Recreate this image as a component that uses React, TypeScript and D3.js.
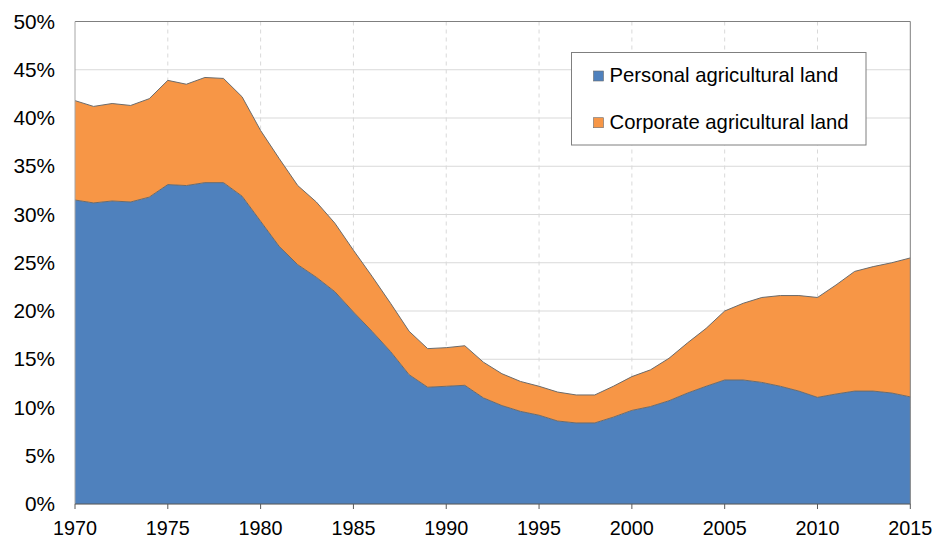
import React from "react";
import * as d3 from "d3";

const years = d3.range(1970, 2016);
const personal = [
  31.5, 31.2, 31.4, 31.3, 31.8, 33.1, 33.0, 33.3, 33.3, 31.9,
  29.3, 26.7, 24.8, 23.5, 22.0, 19.9, 17.9, 15.8, 13.4, 12.1,
  12.2, 12.3, 11.0, 10.2, 9.6, 9.2, 8.6, 8.4, 8.4, 9.0,
  9.7, 10.1, 10.7, 11.5, 12.2, 12.85, 12.85, 12.6, 12.2, 11.7,
  11.05, 11.4, 11.7, 11.7, 11.5, 11.1,
];
const corporate = [
  10.3, 10.0, 10.1, 10.0, 10.2, 10.8, 10.5, 10.9, 10.8, 10.3,
  9.4, 9.1, 8.2, 7.8, 7.1, 6.4, 5.7, 5.0, 4.5, 4.0,
  4.0, 4.1, 3.7, 3.3, 3.1, 3.0, 3.0, 2.9, 2.9, 3.2,
  3.5, 3.8, 4.4, 5.2, 6.0, 7.15, 7.95, 8.8, 9.4, 9.9,
  10.35, 11.3, 12.4, 12.9, 13.5, 14.4,
];
const seriesNames = ["Personal agricultural land", "Corporate agricultural land"];
const seriesColors = ["#4f81bd", "#f79646"];
const xTicks = [1970, 1975, 1980, 1985, 1990, 1995, 2000, 2005, 2010, 2015];
const yTicks = [0, 5, 10, 15, 20, 25, 30, 35, 40, 45, 50];

export default function App() {
  const W = 934, H = 538;
  const left = 75, right = 910.3, top = 21.5, bottom = 504;
  const x = d3.scaleLinear().domain([1970, 2015]).range([left, right]);
  const y = d3.scaleLinear().domain([0, 50]).range([bottom, top]);

  const rows = years.map((yr, i) => ({ year: yr, p: personal[i], c: corporate[i] }));
  const stack = d3.stack<any>().keys(["p", "c"])(rows);
  const area = d3
    .area<any>()
    .x((d) => x(d.data.year))
    .y0((d) => y(d[0]))
    .y1((d) => y(d[1]));
  const topLine = d3
    .line<any>()
    .x((d) => x(d.data.year))
    .y((d) => y(d[1]));

  const font = "'Liberation Sans', Arial, sans-serif";

  return (
    <svg
      width={W}
      height={H}
      style={{ position: "absolute", left: 0, top: 0, background: "#fff" }}
      fontFamily={font}
    >
      <rect x={0} y={0} width={W} height={H} fill="#fff" />
      {yTicks.map((t) => (
        <line key={"h" + t} x1={left} x2={right} y1={y(t)} y2={y(t)} stroke="#d9d9d9" strokeWidth={1} />
      ))}
      {xTicks.slice(1, -1).map((t) => (
        <line
          key={"v" + t}
          x1={x(t)}
          x2={x(t)}
          y1={top}
          y2={bottom}
          stroke="#d9d9d9"
          strokeWidth={1}
          strokeDasharray="4,4"
        />
      ))}
      {stack.map((s, i) => (
        <path key={"a" + i} d={area(s) || ""} fill={seriesColors[i]} />
      ))}
      {stack.map((s, i) => (
        <path key={"l" + i} d={topLine(s) || ""} fill="none" stroke="#6b6b6b" strokeWidth={1} />
      ))}
      <line x1={left} x2={right} y1={top} y2={top} stroke="#7f7f7f" strokeWidth={1} />
      <line x1={right} x2={right} y1={top} y2={bottom} stroke="#7f7f7f" strokeWidth={1} />
      <line x1={left} x2={left} y1={top} y2={bottom} stroke="#a6a6a6" strokeWidth={1} />
      <line x1={left} x2={right} y1={bottom} y2={bottom} stroke="#595959" strokeWidth={1} />
      {xTicks.map((t) => (
        <g key={"xt" + t}>
          <line x1={x(t)} x2={x(t)} y1={bottom} y2={bottom + 5} stroke="#595959" strokeWidth={1} />
          <text x={x(t)} y={535} textAnchor="middle" fontSize={19.8} fill="#000">
            {t}
          </text>
        </g>
      ))}
      {yTicks.map((t) => (
        <text key={"yl" + t} x={55} y={y(t) + 7} textAnchor="end" fontSize={20.8} fill="#000">
          {t + "%"}
        </text>
      ))}
      <rect x={571.5} y={52.5} width={294.5} height={92.5} fill="#fff" stroke="#7f7f7f" strokeWidth={1} />
      {seriesNames.map((n, i) => (
        <g key={"lg" + i}>
          <rect
            x={593.5}
            y={71 + i * 46.7}
            width={10}
            height={10}
            fill={seriesColors[i]}
            stroke="#6b6b6b"
            strokeWidth={0.6}
          />
          <text x={609.5} y={82 + i * 46.7} fontSize={20.3} fill="#000">
            {n}
          </text>
        </g>
      ))}
    </svg>
  );
}
